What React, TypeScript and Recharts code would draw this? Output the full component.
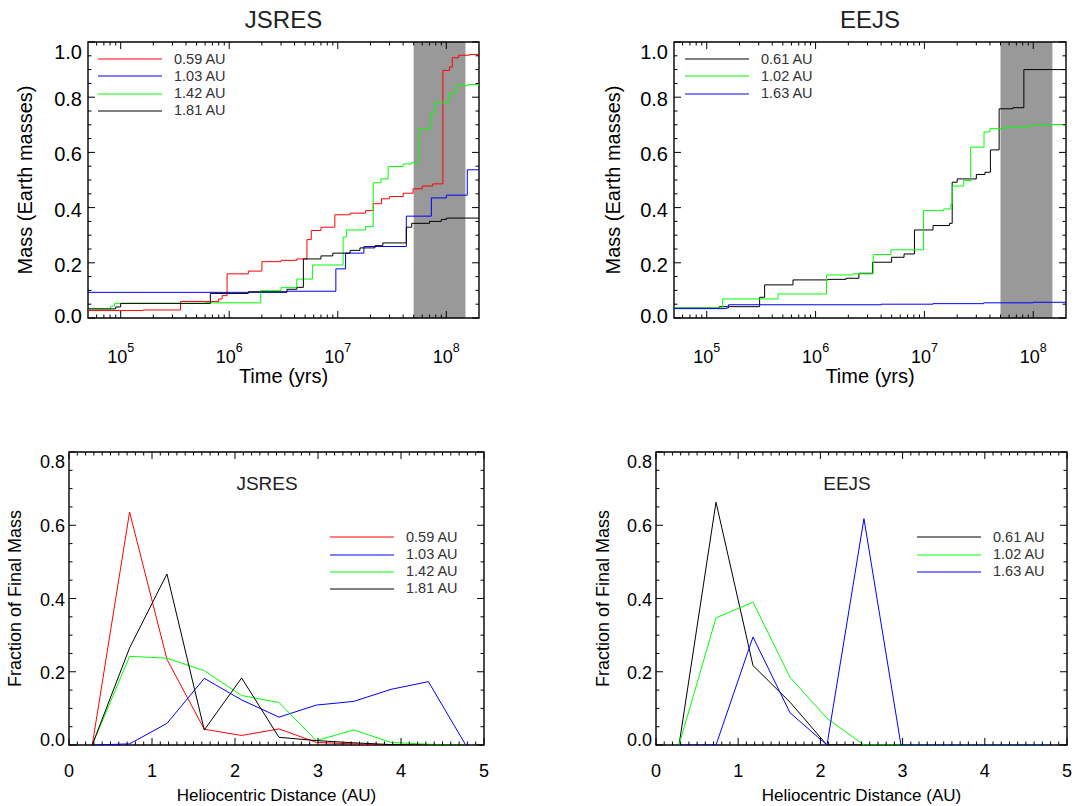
import React from 'react';
import { LineChart, Line, XAxis, YAxis, ReferenceArea, Legend } from 'recharts';

const FONT = '"Liberation Sans", Arial, Helvetica, sans-serif';

// ---------------- top panels: mass growth vs time ----------------
const timeDomain = [5e4, 2e8];
const timeMajorTicks = [1e5, 1e6, 1e7, 1e8];
const timeExponents = ['5', '6', '7', '8'];
const timeMinorTicks = [6e4, 7e4, 8e4, 9e4, 2e5, 3e5, 4e5, 5e5, 6e5, 7e5, 8e5, 9e5, 2e6, 3e6, 4e6, 5e6, 6e6, 7e6, 8e6, 9e6, 2e7, 3e7, 4e7, 5e7, 6e7, 7e7, 8e7, 9e7];
const massMajorTicks = [0, 0.2, 0.4, 0.6, 0.8, 1.0];
const massMinorTicks = [0.05, 0.1, 0.15, 0.25, 0.3, 0.35, 0.45, 0.5, 0.55, 0.65, 0.7, 0.75, 0.85, 0.9, 0.95];
const lateStageBand = [5e7, 1.5e8];

// JSRES
const jsres059Time = [5e4, 1.6e5, 3.56e5, 8.0e5, 8.6e5, 9.55e5, 1.5e6, 2.0e6, 3.0e6, 4.2e6, 5.2e6, 5.7e6, 7.0e6, 9.4e6, 1.3e7, 1.8e7, 2.12e7, 2.53e7, 3.0e7, 4.0e7, 4.94e7, 6.0e7, 7.5e7, 9.3e7, 1.07e8, 1.135e8, 1.3e8, 1.64e8, 2e8];
const jsres059Mass = [0.027, 0.029, 0.060, 0.069, 0.081, 0.160, 0.170, 0.204, 0.209, 0.214, 0.284, 0.317, 0.329, 0.374, 0.380, 0.389, 0.414, 0.432, 0.440, 0.452, 0.468, 0.478, 0.486, 0.897, 0.909, 0.943, 0.952, 0.955, 0.955];
const jsres103Time = [5e4, 3.4e6, 9.6e6, 1.18e7, 1.74e7, 4.28e7, 7.28e7, 1.0e8, 1.56e8, 2e8];
const jsres103Mass = [0.093, 0.097, 0.178, 0.235, 0.259, 0.369, 0.435, 0.445, 0.537, 0.537];
const jsres142Time = [5e4, 8.1e4, 8.8e4, 6e5, 1.95e6, 3.0e6, 4.19e6, 5.84e6, 1.12e7, 1.2e7, 1.8e7, 2.12e7, 2.5e7, 2.91e7, 4.0e7, 4.8e7, 5.57e7, 7.13e7, 7.82e7, 1.06e8, 1.23e8, 1.6e8, 2e8];
const jsres142Mass = [0.033, 0.043, 0.053, 0.055, 0.099, 0.110, 0.141, 0.192, 0.293, 0.319, 0.331, 0.490, 0.504, 0.549, 0.558, 0.563, 0.684, 0.742, 0.782, 0.815, 0.843, 0.846, 0.846];
const jsres181Time = [5e4, 9.0e4, 1.0e5, 6.7e5, 1.5e6, 3.4e6, 4.2e6, 4.82e6, 7.0e6, 9.0e6, 1.3e7, 1.6e7, 2.2e7, 2.6e7, 4.28e7, 4.8e7, 7.0e7, 9.0e7, 1.0e8, 2e8];
const jsres181Mass = [0.033, 0.040, 0.053, 0.089, 0.095, 0.104, 0.111, 0.214, 0.225, 0.235, 0.245, 0.254, 0.262, 0.272, 0.329, 0.343, 0.350, 0.357, 0.362, 0.362];

// EEJS
const eejs061Time = [5e4, 1.3e5, 3.06e5, 3.4e5, 6.2e5, 1.3e6, 1.9e6, 2.5e6, 3.33e6, 5.0e6, 6.5e6, 8.1e6, 1.2e7, 1.7e7, 1.8e7, 2.0e7, 3.0e7, 3.6e7, 4.04e7, 4.86e7, 6.5e7, 8.2e7, 2e8];
const eejs061Mass = [0.036, 0.041, 0.075, 0.120, 0.138, 0.140, 0.144, 0.162, 0.202, 0.220, 0.232, 0.319, 0.335, 0.343, 0.492, 0.504, 0.520, 0.528, 0.609, 0.758, 0.762, 0.900, 0.901];
const eejs102Time = [5e4, 1.3e5, 1.4e5, 4.52e5, 1.26e6, 2.2e6, 3.38e6, 4.92e6, 9.8e6, 1.5e7, 1.75e7, 1.8e7, 2.3e7, 2.66e7, 3.53e7, 4.0e7, 5.5e7, 9.0e7, 2e8];
const eejs102Mass = [0.036, 0.039, 0.069, 0.087, 0.156, 0.160, 0.230, 0.247, 0.389, 0.395, 0.414, 0.478, 0.498, 0.619, 0.674, 0.686, 0.692, 0.701, 0.704];
const eejs163Time = [5e4, 1.5e5, 1.58e5, 4e6, 1.2e7, 3.5e7, 1.0e8, 2e8];
const eejs163Mass = [0.034, 0.036, 0.048, 0.050, 0.052, 0.055, 0.057, 0.057];

// ---------------- bottom panels: feeding zones ----------------
const distDomain = [0, 5];
const distMajorTicks = [0, 1, 2, 3, 4, 5];
const distLabels = ['0', '1', '2', '3', '4', '5'];
const fracMajorTicks = [0, 0.2, 0.4, 0.6, 0.8];
const fracMinorTicks = [0.05, 0.1, 0.15, 0.25, 0.3, 0.35, 0.45, 0.5, 0.55, 0.65, 0.7, 0.75];
const distMinorTicks = Array.from({ length: 51 }, (_, i) => Math.round(i * 10) / 100 * 1).map((v) => v * 1).filter((v) => Math.abs(v - Math.round(v)) > 1e-6);

const distanceBins = [0.28, 0.73, 1.18, 1.63, 2.08, 2.53, 2.98, 3.43, 3.88, 4.33, 4.78];
const jsres059Frac = [0, 0.636, 0.234, 0.043, 0.026, 0.044, 0.007, 0.003, 0.001, 0, 0];
const jsres103Frac = [0, 0.003, 0.059, 0.182, 0.123, 0.076, 0.109, 0.119, 0.152, 0.173, 0];
const jsres142Frac = [0, 0.242, 0.237, 0.203, 0.135, 0.116, 0.012, 0.041, 0.007, 0.002, 0];
const jsres181Frac = [0, 0.265, 0.467, 0.041, 0.183, 0.021, 0.012, 0.006, 0.001, 0, 0];
const eejs061Frac = [0, 0.663, 0.217, 0.117, 0, 0, 0, 0, 0, 0, 0];
const eejs102Frac = [0, 0.347, 0.390, 0.185, 0.073, 0, 0, 0, 0, 0, 0];
const eejs163Frac = [0, 0, 0.295, 0.088, 0, 0.618, 0, 0, 0, 0, 0];

const RED = '#ff0000';
const BLUE = '#0000ff';
const GREEN = '#00ff00';
const BLACK = '#000000';

type Series = { name: string; color: string; xs: number[]; ys: number[] };

const toPoints = (xs: number[], ys: number[]) => xs.map((x, i) => ({ x, y: ys[i] }));

const jsresTime: Series[] = [
  { name: '0.59 AU', color: RED, xs: jsres059Time, ys: jsres059Mass },
  { name: '1.03 AU', color: BLUE, xs: jsres103Time, ys: jsres103Mass },
  { name: '1.42 AU', color: GREEN, xs: jsres142Time, ys: jsres142Mass },
  { name: '1.81 AU', color: BLACK, xs: jsres181Time, ys: jsres181Mass },
];
const eejsTime: Series[] = [
  { name: '0.61 AU', color: BLACK, xs: eejs061Time, ys: eejs061Mass },
  { name: '1.02 AU', color: GREEN, xs: eejs102Time, ys: eejs102Mass },
  { name: '1.63 AU', color: BLUE, xs: eejs163Time, ys: eejs163Mass },
];
const jsresDist: Series[] = [
  { name: '0.59 AU', color: RED, xs: distanceBins, ys: jsres059Frac },
  { name: '1.03 AU', color: BLUE, xs: distanceBins, ys: jsres103Frac },
  { name: '1.42 AU', color: GREEN, xs: distanceBins, ys: jsres142Frac },
  { name: '1.81 AU', color: BLACK, xs: distanceBins, ys: jsres181Frac },
];
const eejsDist: Series[] = [
  { name: '0.61 AU', color: BLACK, xs: distanceBins, ys: eejs061Frac },
  { name: '1.02 AU', color: GREEN, xs: distanceBins, ys: eejs102Frac },
  { name: '1.63 AU', color: BLUE, xs: distanceBins, ys: eejs163Frac },
];

const LegendBox = (props: any) => {
  const payload = props.payload || [];
  return (
    <div style={{ fontFamily: FONT, fontSize: 14.5, color: '#333' }}>
      {payload.map((e: any) => (
        <div key={e.value} style={{ display: 'flex', alignItems: 'center', height: 17.2, whiteSpace: 'nowrap' }}>
          <svg width={64} height={4} style={{ display: 'block' }}>
            <line x1={0} x2={64} y1={2} y2={2} stroke={e.color} strokeWidth={1.2} />
          </svg>
          <span style={{ marginLeft: 12, lineHeight: '17.2px' }}>{e.value}</span>
        </div>
      ))}
    </div>
  );
};

const MAJ = 7;
const MIN = 3.5;

function TimePanel(props: { left: number; width: number; yAxisWidth: number; marginRight: number; series: Series[]; legendLeft: number; yTitleX: number; }) {
  const { left, width, yAxisWidth, marginRight, series, legendLeft, yTitleX } = props;
  const top = 42;
  const height = 400;
  const xAxisHeight = 82;
  const plotRight = width - marginRight;
  const plotBottom = height - xAxisHeight;
  const cx = (yAxisWidth + plotRight) / 2;
  const cy = (top + plotBottom) / 2;

  const timeTick = (p: any) => {
    const { x, y, payload } = p;
    const idx = timeMajorTicks.indexOf(payload.value);
    const len = idx >= 0 ? MAJ : MIN;
    return (
      <g>
        <line x1={x} x2={x} y1={y} y2={y - len} stroke="#000" strokeWidth={1} />
        <line x1={x} x2={x} y1={top} y2={top + len} stroke="#000" strokeWidth={1} />
        {idx >= 0 && (
          <text x={x} y={y + 45} textAnchor="middle" fontFamily={FONT} fontSize={18} fill="#000">
            10<tspan dy={-11} fontSize={12.5}>{timeExponents[idx]}</tspan>
          </text>
        )}
      </g>
    );
  };
  const massTick = (p: any) => {
    const { x, y, payload } = p;
    const v = payload.value;
    const idx = massMajorTicks.indexOf(v);
    const len = idx >= 0 ? MAJ : MIN;
    const off = v === 1 ? 10 : v === 0 ? -2.3 : 2;
    return (
      <g>
        <line x1={x} x2={x + len} y1={y} y2={y} stroke="#000" strokeWidth={1} />
        <line x1={plotRight} x2={plotRight - len} y1={y} y2={y} stroke="#000" strokeWidth={1} />
        {idx >= 0 && (
          <text x={x - 6} y={y + off + 7} textAnchor="end" fontFamily={FONT} fontSize={20} fill="#000">
            {v.toFixed(1)}
          </text>
        )}
      </g>
    );
  };

  return (
    <div style={{ position: 'absolute', left, top: 0, width, height }}>
      <LineChart width={width} height={height} margin={{ top, right: marginRight, bottom: 0, left: 0 }}>
        <XAxis
          dataKey="x" type="number" scale="log" domain={timeDomain} allowDataOverflow
          ticks={[...timeMinorTicks, ...timeMajorTicks]} interval={0} tick={timeTick}
          tickLine={false} axisLine={false} tickSize={0} tickMargin={0} height={xAxisHeight}
          label={{ content: () => (<text x={cx} y={383} textAnchor="middle" fontFamily={FONT} fontSize={20} fill="#000">Time (yrs)</text>) }}
        />
        <YAxis
          type="number" domain={[0, 1]} allowDataOverflow
          ticks={[...massMinorTicks, ...massMajorTicks]} interval={0} tick={massTick}
          tickLine={false} axisLine={false} tickSize={0} tickMargin={0} width={yAxisWidth}
          label={{ content: () => (<text x={yTitleX} y={cy} transform={`rotate(-90 ${yTitleX} ${cy})`} textAnchor="middle" dy={7} fontFamily={FONT} fontSize={20} fill="#000">Mass (Earth masses)</text>) }}
        />
        <ReferenceArea x1={lateStageBand[0]} x2={lateStageBand[1]} y1={0} y2={1} fill="#999999" fillOpacity={1} stroke="none" />
        {series.map((s) => (
          <Line key={s.name} data={toPoints(s.xs, s.ys)} dataKey="y" name={s.name} type="stepAfter" stroke={s.color} strokeWidth={1} dot={false} activeDot={false} isAnimationActive={false} />
        ))}
        <ReferenceArea x1={timeDomain[0]} x2={timeDomain[1]} y1={0} y2={1} fill="none" fillOpacity={0} stroke="#000" strokeWidth={1.4} />
        <Legend layout="vertical" verticalAlign="middle" align="center" width={150} content={LegendBox} wrapperStyle={{ position: 'absolute', left: legendLeft, top: 50.7, width: 150 }} />
      </LineChart>
    </div>
  );
}

function DistPanel(props: { left: number; width: number; yAxisWidth: number; marginRight: number; series: Series[]; legendLeft: number; yTitleX: number; }) {
  const { left, width, yAxisWidth, marginRight, series, legendLeft, yTitleX } = props;
  const chartTop = 420;
  const top = 32;
  const height = 386;
  const xAxisHeight = 61;
  const plotRight = width - marginRight;
  const plotBottom = height - xAxisHeight;
  const cx = (yAxisWidth + plotRight) / 2;
  const cy = (top + plotBottom) / 2;

  const distTick = (p: any) => {
    const { x, y, payload } = p;
    const idx = distMajorTicks.indexOf(payload.value);
    const len = idx >= 0 ? MAJ : MIN;
    return (
      <g>
        <line x1={x} x2={x} y1={y} y2={y - len} stroke="#000" strokeWidth={1} />
        <line x1={x} x2={x} y1={top} y2={top + len} stroke="#000" strokeWidth={1} />
        {idx >= 0 && (
          <text x={x} y={y + 31.5} textAnchor="middle" fontFamily={FONT} fontSize={18} fill="#000">{distLabels[idx]}</text>
        )}
      </g>
    );
  };
  const fracTick = (p: any) => {
    const { x, y, payload } = p;
    const v = payload.value;
    const idx = fracMajorTicks.indexOf(v);
    const len = idx >= 0 ? MAJ : MIN;
    const off = v === 0.8 ? 9.7 : v === 0 ? -6 : 0.5;
    return (
      <g>
        <line x1={x} x2={x + len} y1={y} y2={y} stroke="#000" strokeWidth={1} />
        <line x1={plotRight} x2={plotRight - len} y1={y} y2={y} stroke="#000" strokeWidth={1} />
        {idx >= 0 && (
          <text x={x - 4} y={y + off + 6.5} textAnchor="end" fontFamily={FONT} fontSize={18} fill="#000">{v.toFixed(1)}</text>
        )}
      </g>
    );
  };

  return (
    <div style={{ position: 'absolute', left, top: chartTop, width, height }}>
      <LineChart width={width} height={height} margin={{ top, right: marginRight, bottom: 0, left: 0 }}>
        <XAxis
          dataKey="x" type="number" domain={distDomain} allowDataOverflow
          ticks={[...distMinorTicks, ...distMajorTicks]} interval={0} tick={distTick}
          tickLine={false} axisLine={false} tickSize={0} tickMargin={0} height={xAxisHeight}
          label={{ content: () => (<text x={cx} y={381} textAnchor="middle" fontFamily={FONT} fontSize={17} fill="#000">Heliocentric Distance (AU)</text>) }}
        />
        <YAxis
          type="number" domain={[0, 0.8]} allowDataOverflow
          ticks={[...fracMinorTicks, ...fracMajorTicks]} interval={0} tick={fracTick}
          tickLine={false} axisLine={false} tickSize={0} tickMargin={0} width={yAxisWidth}
          label={{ content: () => (<text x={yTitleX} y={cy} transform={`rotate(-90 ${yTitleX} ${cy})`} textAnchor="middle" dy={6} fontFamily={FONT} fontSize={18} fill="#000">Fraction of Final Mass</text>) }}
        />
        {series.map((s) => (
          <Line key={s.name} data={toPoints(s.xs, s.ys)} dataKey="y" name={s.name} type="linear" stroke={s.color} strokeWidth={1} dot={false} activeDot={false} isAnimationActive={false} />
        ))}
        <ReferenceArea x1={distDomain[0]} x2={distDomain[1]} y1={0} y2={0.8} fill="none" fillOpacity={0} stroke="#000" strokeWidth={1.4} />
        <Legend layout="vertical" verticalAlign="middle" align="center" width={150} content={LegendBox} wrapperStyle={{ position: 'absolute', left: legendLeft, top: 108.8, width: 150 }} />
      </LineChart>
    </div>
  );
}

const titleStyle = (cx: number, top: number, size: number): React.CSSProperties => ({
  position: 'absolute', left: cx - 100, width: 200, top, textAlign: 'center',
  fontFamily: FONT, fontSize: size, lineHeight: `${size}px`, color: '#222',
});

export default function App() {
  return (
    <div style={{ position: 'absolute', left: 0, top: 0, width: 1077, height: 806, background: '#fff', overflow: 'hidden' }}>
      <div style={titleStyle(283.5, 8.2, 24)}>JSRES</div>
      <div style={titleStyle(870, 8.2, 24)}>EEJS</div>
      <TimePanel left={0} width={500} yAxisWidth={88} marginRight={21} series={jsresTime} legendLeft={98} yTitleX={25} />
      <TimePanel left={540} width={537} yAxisWidth={134} marginRight={11} series={eejsTime} legendLeft={145} yTitleX={73} />
      <DistPanel left={0} width={500} yAxisWidth={69} marginRight={16} series={jsresDist} legendLeft={330} yTitleX={15} />
      <DistPanel left={540} width={537} yAxisWidth={116} marginRight={10} series={eejsDist} legendLeft={377} yTitleX={63} />
      <div style={titleStyle(267, 473.7, 19)}>JSRES</div>
      <div style={titleStyle(847, 473.7, 19)}>EEJS</div>
    </div>
  );
}
